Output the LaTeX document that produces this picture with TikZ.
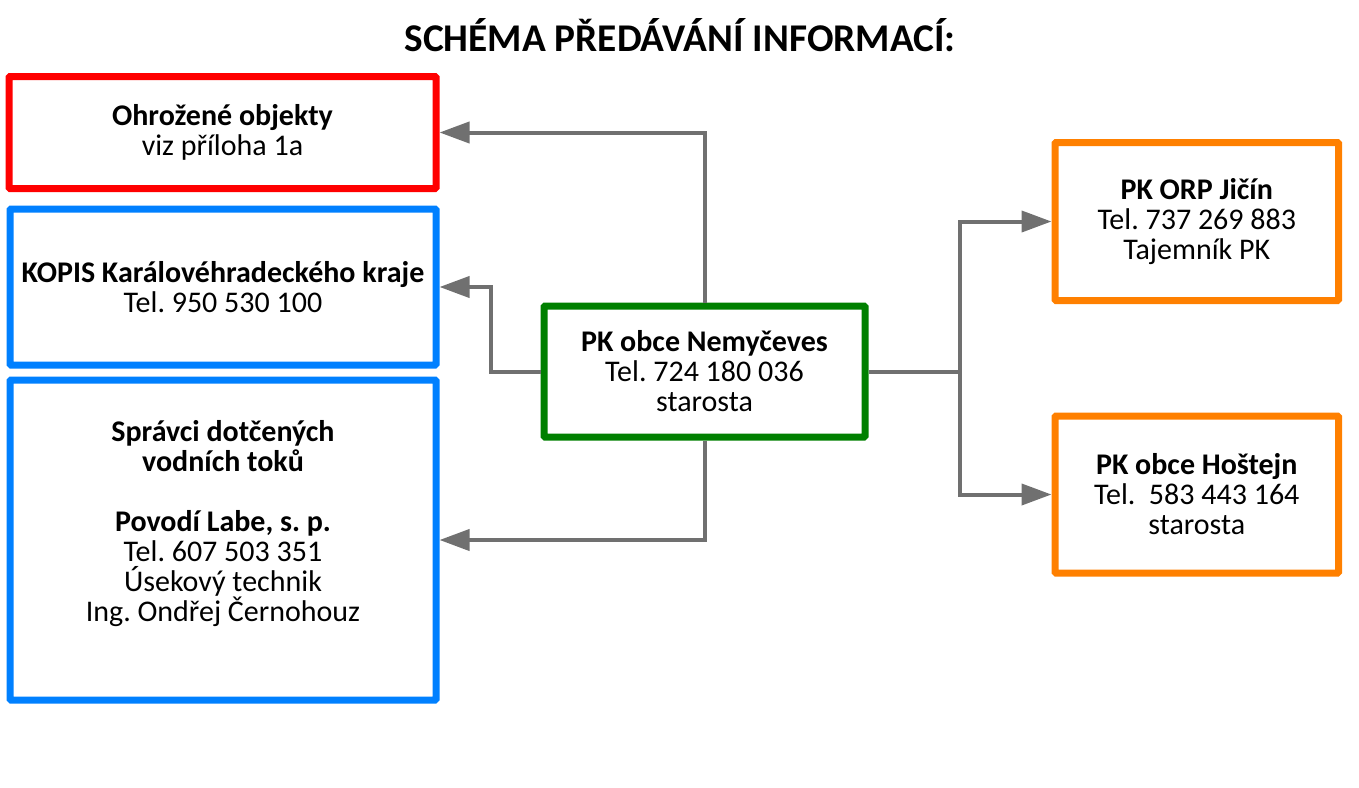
\documentclass[tikz,border=0pt]{standalone}
\usepackage{fontspec}
\setmainfont{Carlito}
\frenchspacing
\usetikzlibrary{arrows.meta,calc}
\definecolor{cred}{RGB}{255,0,0}
\definecolor{cblue}{RGB}{0,128,255}
\definecolor{cgreen}{RGB}{0,128,0}
\definecolor{corange}{RGB}{255,128,0}
\definecolor{cgray}{RGB}{112,112,112}
\tikzset{
  box/.style={draw, line width=7pt, rounded corners=1pt, align=center, inner sep=0pt,
    font=\fontsize{30}{30}\selectfont\frenchspacing, text=black},
  arr/.style={draw=cgray, line width=4pt, -{Triangle[length=30pt,width=21pt]}},
  ln/.style={draw=cgray, line width=4pt}
}
\begin{document}
\begin{tikzpicture}[x=1pt,y=-1pt]
\useasboundingbox (0,0) rectangle (1359,787);
\node[anchor=base, font=\fontsize{39.3}{40}\selectfont\bfseries] (title) at (680,51) {SCHÉMA PŘEDÁVÁNÍ INFORMACÍ:};
\node[box, draw=cred, minimum width=427pt, minimum height=112pt] (red) at (222.5,132.5)
  {\textbf{Ohrožené objekty}\\viz příloha 1a};
\node[box, draw=cblue, minimum width=426pt, minimum height=156pt] (kopis) at (223,287)
  {\textbf{KOPIS Karálovéhradeckého kraje}\\Tel. 950 530 100};
\node[box, draw=cblue, minimum width=426pt, minimum height=320pt] (povodi) at (223,540)
  {\textbf{Správci dotčených}\\\textbf{vodních toků}\\[30pt]\textbf{Povodí Labe, s. p.}\\Tel. 607 503 351\\Úsekový technik\\Ing. Ondřej Černohouz\\\strut};
\node[box, draw=cgreen, minimum width=321pt, minimum height=131pt] (green) at (704.5,371.5)
  {\textbf{PK obce Nemyčeves}\\Tel. 724 180 036\\starosta};
\node[box, draw=corange, minimum width=283.5pt, minimum height=158pt] (orp) at (1196.75,221.5)
  {\textbf{PK ORP Jičín}\\Tel. 737 269 883\\Tajemník PK};
\node[box, draw=corange, minimum width=283.5pt, minimum height=157pt] (hos) at (1196.75,494.5)
  {\textbf{PK obce Hoštejn}\\Tel.\ \ 583 443 164\\starosta};
\draw[arr] (green.north) |- (red.east);
\draw[arr] (green.west) -- ++(-50,0) |- (kopis.east);
\draw[arr] (green.south) |- (povodi.east);
\coordinate (split) at ($(green.east)+(91.5,0)$);
\draw[ln] (green.east) -- (split);
\draw[arr] (split) |- (orp.west);
\draw[arr] (split) |- (hos.west);
\end{tikzpicture}
\end{document}
